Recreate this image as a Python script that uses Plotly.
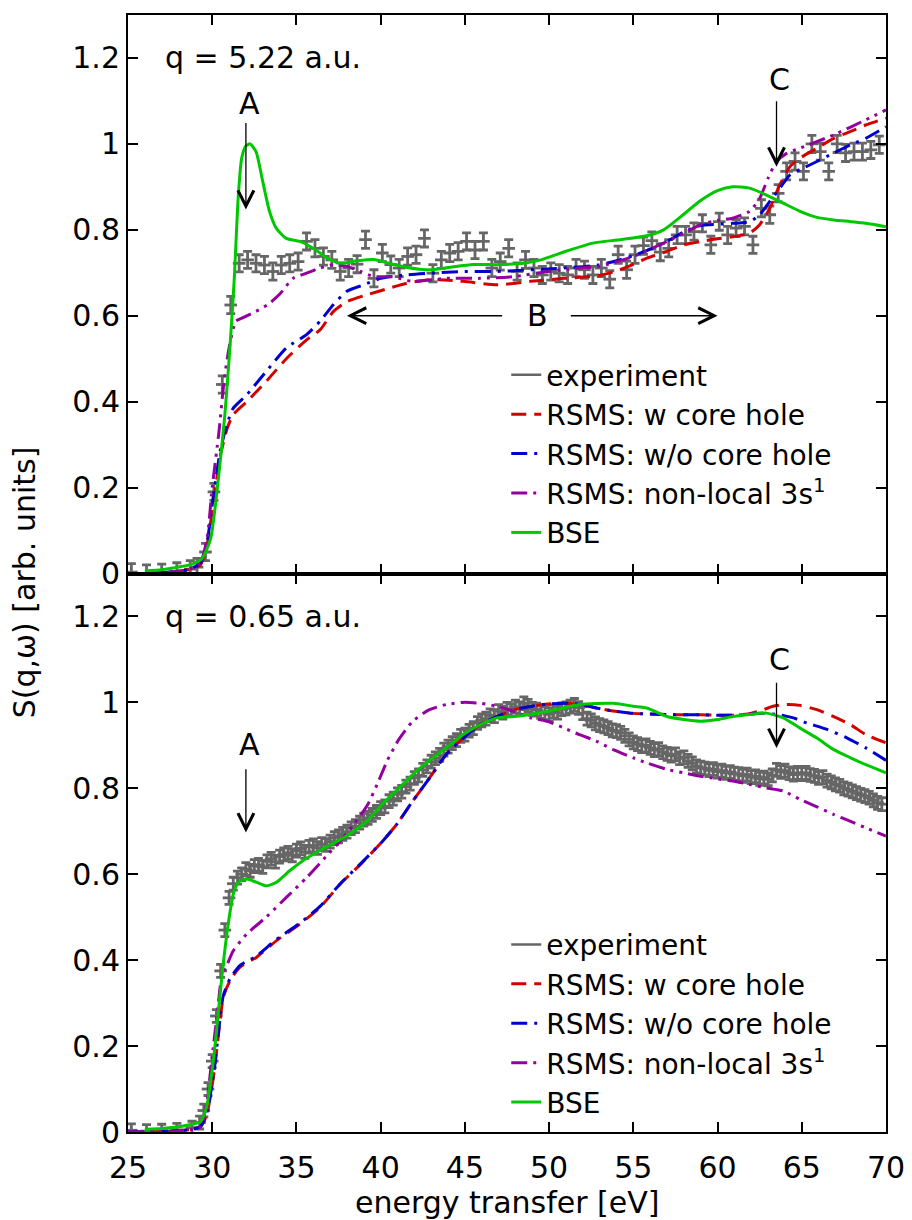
import plotly.graph_objects as go

# ---------------- data: top panel (q = 5.22 a.u.) ----------------
exp_top_E = [25.2, 26.1, 27.0, 27.9, 28.7,
             29.1, 29.6, 30.1, 30.6, 31.1, 31.6, 32.1, 32.6, 33.1, 33.6,
             34.1, 34.6, 35.1, 35.6, 36.1, 36.6, 37.1, 37.6, 38.1, 38.6,
             39.1, 39.6, 40.1, 40.6, 41.1, 41.6, 42.1, 42.6, 43.1, 43.6,
             44.1, 44.6, 45.1, 45.6, 46.1, 46.6, 47.1, 47.6, 48.1, 48.6,
             49.1, 49.6, 50.1, 50.6, 51.1, 51.6, 52.1, 52.6, 53.1, 53.6,
             54.1, 54.6, 55.1, 55.6, 56.1, 56.6, 57.1, 57.6, 58.1, 58.6,
             59.1, 59.6, 60.1, 60.6, 61.1, 61.6, 62.1, 62.6, 63.1, 63.6,
             64.1, 64.6, 65.1, 65.6, 66.1, 66.6, 67.1, 67.6, 68.1, 68.6,
             69.1, 69.6]
exp_top_S = [0.003, 0.0, 0.002, 0.005, 0.01,
             0.015, 0.05, 0.19, 0.44, 0.625, 0.722, 0.730, 0.722, 0.718, 0.703,
             0.718, 0.722, 0.726, 0.773, 0.757, 0.738, 0.730, 0.703, 0.711, 0.720,
             0.777, 0.687, 0.746, 0.719, 0.711, 0.738, 0.742, 0.780, 0.699, 0.730,
             0.746, 0.750, 0.773, 0.753, 0.773, 0.711, 0.726, 0.757, 0.703, 0.730,
             0.711, 0.695, 0.703, 0.699, 0.695, 0.711, 0.707, 0.695, 0.711, 0.685,
             0.742, 0.707, 0.742, 0.763, 0.775, 0.748, 0.757, 0.788, 0.788, 0.796,
             0.815, 0.765, 0.819, 0.788, 0.804, 0.808, 0.765, 0.850, 0.835, 0.885,
             0.936, 0.959, 0.936, 1.000, 0.982, 0.936, 1.000, 0.979, 0.982, 0.982,
             0.986, 0.998]

red_top_E = [25, 26, 27, 28, 28.7, 29.3, 29.7, 30.1, 30.5, 30.9, 31.25, 32.05, 33.2, 34.4,
             35.6, 36.4, 37.2, 38.0, 39.2, 40.5, 41.5, 42.9, 44.9, 46.9, 48.9, 50.9, 52.9,
             53.9, 54.9, 55.8, 57.0, 58.0, 59.0, 60.0, 60.9, 61.9, 62.5, 63.1, 63.7, 64.3,
             64.9, 65.9, 66.9, 67.9, 68.8, 70.0]
red_top_S = [0.0, 0.0, 0.002, 0.005, 0.01, 0.02, 0.068, 0.176, 0.277, 0.339, 0.37, 0.40, 0.447,
             0.50, 0.544, 0.567, 0.61, 0.633, 0.649, 0.664, 0.675, 0.684, 0.680, 0.672, 0.68,
             0.687, 0.693, 0.703, 0.718, 0.734, 0.75, 0.765, 0.773, 0.779, 0.784, 0.792,
             0.812, 0.850, 0.905, 0.947, 0.967, 0.990, 1.013, 1.029, 1.044, 1.06]

blue_top_E = [25, 26, 27, 28, 28.7, 29.3, 29.7, 30.1, 30.5, 30.9, 31.25, 32.05, 33.2, 34.4,
              35.6, 36.4, 37.2, 38.0, 39.0, 40.0, 41.5, 42.9, 44.9, 46.9, 48.9, 50.9, 52.9,
              54.0, 55.0, 56.0, 57.0, 58.0, 59.0, 60.0, 60.9, 61.9, 62.5, 63.1, 63.7, 64.3,
              64.9, 65.9, 66.9, 67.9, 68.8, 70.0]
blue_top_S = [0.0, 0.0, 0.002, 0.005, 0.01, 0.025, 0.075, 0.19, 0.29, 0.35, 0.385, 0.416, 0.47,
              0.525, 0.556, 0.587, 0.626, 0.657, 0.672, 0.687, 0.695, 0.699, 0.703, 0.703,
              0.707, 0.711, 0.718, 0.728, 0.740, 0.755, 0.773, 0.795, 0.810, 0.813, 0.815,
              0.819, 0.835, 0.866, 0.897, 0.928, 0.94, 0.959, 0.979, 0.998, 1.013, 1.04]

pur_top_E = [25, 26, 27, 28, 28.7, 29.3, 29.7, 30.0, 30.4, 30.7, 31.0, 31.4, 31.8, 32.6, 33.3,
             34.0, 34.8, 35.6, 36.4, 37.2, 38.0, 38.8, 39.6, 40.7, 41.9, 43.9, 45.9, 47.9,
             49.9, 51.8, 53.0, 55.0, 57.0, 58.0, 59.0, 60.0, 60.9, 61.9, 62.5, 63.0, 63.5,
             64.1, 64.9, 66.9, 68.8, 70.0]
pur_top_S = [0.0, 0.0, 0.002, 0.005, 0.01, 0.025, 0.083, 0.2, 0.33, 0.447, 0.525, 0.587, 0.595,
             0.61, 0.626, 0.650, 0.687, 0.699, 0.711, 0.719, 0.715, 0.703, 0.691, 0.691, 0.68,
             0.687, 0.687, 0.691, 0.703, 0.711, 0.715, 0.738, 0.773, 0.792, 0.812, 0.822,
             0.827, 0.843, 0.873, 0.92, 0.959, 0.978, 0.99, 1.021, 1.056, 1.079]

bse_top_E = [26.0, 27, 28, 28.8, 29.4, 29.9, 30.35, 30.75, 31.05, 31.3, 31.55, 31.75, 32.0,
             32.25, 32.6, 33.0, 33.4, 33.8, 34.4, 35.2, 36.0, 36.8, 37.6, 38.6, 39.6, 40.5,
             41.5, 42.9, 44.0, 45.5, 47.0, 48.5, 49.5, 51.0, 52.6, 54.2, 55.8, 56.8, 57.8,
             59.0, 60.0, 60.9, 61.9, 62.9, 63.9, 64.9, 65.9, 66.9, 67.9, 68.8, 70.0]
bse_top_S = [0.006, 0.009, 0.015, 0.022, 0.035, 0.08, 0.215, 0.37, 0.525, 0.68, 0.88, 0.967,
             0.995, 1.0, 0.982, 0.912, 0.843, 0.804, 0.78, 0.773, 0.757, 0.735, 0.722, 0.728,
             0.731, 0.722, 0.713, 0.707, 0.712, 0.719, 0.719, 0.722, 0.730, 0.75, 0.769,
             0.777, 0.786, 0.80, 0.83, 0.868, 0.891, 0.90, 0.897, 0.881, 0.862, 0.843, 0.829,
             0.823, 0.819, 0.815, 0.807]

# ---------------- data: bottom panel (q = 0.65 a.u.) ----------------
exp_bot_E = [25.2, 26.1, 27.0, 27.9, 28.8,
             29.25, 29.5, 29.75, 30.0, 30.25, 30.5, 30.75, 31.0,
             31.25, 31.5, 31.75, 32.0, 32.25, 32.5, 32.75, 33.0,
             33.25, 33.5, 33.75, 34.0, 34.25, 34.5, 34.75, 35.0,
             35.25, 35.5, 35.75, 36.0, 36.25, 36.5, 36.75, 37.0,
             37.25, 37.5, 37.75, 38.0, 38.25, 38.5, 38.75, 39.0,
             39.25, 39.5, 39.75, 40.0, 40.25, 40.5, 40.75, 41.0,
             41.25, 41.5, 41.75, 42.0, 42.25, 42.5, 42.75, 43.0,
             43.25, 43.5, 43.75, 44.0, 44.25, 44.5, 44.75, 45.0,
             45.25, 45.5, 45.75, 46.0, 46.25, 46.5, 46.75, 47.0,
             47.25, 47.5, 47.75, 48.0, 48.25, 48.5, 48.75, 49.0,
             49.25, 49.5, 49.75, 50.0, 50.25, 50.5, 50.75, 51.0,
             51.25, 51.5, 51.75, 52.0, 52.25, 52.5, 52.75, 53.0,
             53.25, 53.5, 53.75, 54.0, 54.25, 54.5, 54.75, 55.0,
             55.25, 55.5, 55.75, 56.0, 56.25, 56.5, 56.75, 57.0,
             57.25, 57.5, 57.75, 58.0, 58.25, 58.5, 58.75, 59.0,
             59.25, 59.5, 59.75, 60.0, 60.25, 60.5, 60.75, 61.0,
             61.25, 61.5, 61.75, 62.0, 62.25, 62.5, 62.75, 63.0,
             63.25, 63.5, 63.75, 64.0, 64.25, 64.5, 64.75, 65.0,
             65.25, 65.5, 65.75, 66.0, 66.25, 66.5, 66.75, 67.0,
             67.25, 67.5, 67.75, 68.0, 68.25, 68.5, 68.75, 69.0,
             69.25, 69.5, 69.75]
exp_bot_S = [0.004, 0.002, 0.003, 0.005, 0.01,
             0.022, 0.05, 0.10, 0.165, 0.27, 0.375, 0.47, 0.545,
             0.578, 0.592, 0.600, 0.612, 0.608, 0.619, 0.622, 0.617,
             0.630, 0.636, 0.629, 0.641, 0.646, 0.650, 0.644, 0.655,
             0.660, 0.652, 0.664, 0.667, 0.661, 0.670, 0.668, 0.676,
             0.684, 0.688, 0.694, 0.699, 0.707, 0.712, 0.720, 0.727,
             0.731, 0.738, 0.745, 0.754, 0.758, 0.770, 0.776, 0.786,
             0.792, 0.804, 0.811, 0.824, 0.830, 0.843, 0.851, 0.862,
             0.870, 0.878, 0.890, 0.897, 0.905, 0.912, 0.922, 0.925,
             0.934, 0.940, 0.952, 0.958, 0.962, 0.970, 0.968, 0.980,
             0.976, 0.985, 0.982, 0.990, 0.986, 0.998, 0.992, 0.985,
             0.983, 0.978, 0.975, 0.972, 0.979, 0.976, 0.984, 0.986,
             0.990, 0.994, 0.987, 0.975, 0.962, 0.958, 0.951, 0.947,
             0.944, 0.940, 0.935, 0.933, 0.929, 0.922, 0.914, 0.907,
             0.903, 0.898, 0.900, 0.894, 0.889, 0.891, 0.884, 0.880,
             0.876, 0.879, 0.870, 0.872, 0.864, 0.858, 0.851, 0.848,
             0.846, 0.842, 0.845, 0.839, 0.841, 0.836, 0.838, 0.834,
             0.833, 0.829, 0.832, 0.826, 0.828, 0.822, 0.825, 0.821,
             0.830, 0.843, 0.838, 0.841, 0.835, 0.832, 0.836, 0.833,
             0.836, 0.831, 0.829, 0.824, 0.826, 0.818, 0.814, 0.809,
             0.806, 0.800, 0.797, 0.793, 0.789, 0.785, 0.782, 0.778,
             0.772, 0.766, 0.763]

red_bot_E = [25, 26, 27, 28, 28.8, 29.3, 29.67, 30.1, 30.4, 30.66, 31.06, 31.65, 32.64, 33.8,
             35.2, 36.4, 37.6, 38.8, 40.0, 40.95, 41.9, 42.9, 43.9, 44.9, 45.9, 46.9, 47.9,
             49.0, 49.9, 50.9, 51.8, 52.8, 53.8, 54.8, 55.8, 57.0, 58.0, 59.0, 60.0, 60.9,
             61.8, 62.5, 63.3, 64.1, 64.9, 65.9, 66.9, 67.9, 68.8, 70.0]
red_bot_S = [0.0, 0.0, 0.001, 0.003, 0.006, 0.012, 0.04, 0.136, 0.237, 0.314, 0.353, 0.384,
             0.407, 0.445, 0.484, 0.523, 0.577, 0.623, 0.672, 0.716, 0.770, 0.824, 0.879,
             0.917, 0.948, 0.967, 0.983, 0.991, 0.996, 0.998, 0.996, 0.987, 0.98, 0.975,
             0.973, 0.972, 0.971, 0.971, 0.970, 0.970, 0.973, 0.98, 0.991, 0.995, 0.993,
             0.983, 0.967, 0.948, 0.925, 0.906]

blue_bot_E = [25, 26, 27, 28, 28.8, 29.3, 29.67, 30.1, 30.4, 30.66, 31.06, 31.65, 32.64, 33.8,
              35.2, 36.4, 37.6, 38.8, 40.0, 40.95, 41.9, 42.9, 43.9, 44.9, 45.9, 46.9, 47.9,
              49.0, 49.9, 50.9, 51.8, 52.8, 53.8, 54.8, 55.8, 57.0, 58.0, 59.0, 60.0, 60.9,
              61.8, 62.5, 63.7, 64.5, 65.3, 66.5, 67.7, 68.8, 70.0]
blue_bot_S = [0.0, 0.0, 0.001, 0.003, 0.006, 0.013, 0.043, 0.14, 0.242, 0.318, 0.357, 0.388,
              0.410, 0.448, 0.486, 0.525, 0.578, 0.624, 0.672, 0.716, 0.770, 0.824, 0.879,
              0.917, 0.948, 0.967, 0.983, 0.991, 0.996, 0.998, 0.996, 0.987, 0.98, 0.975,
              0.973, 0.972, 0.971, 0.971, 0.970, 0.970, 0.972, 0.975, 0.971, 0.964, 0.952,
              0.937, 0.917, 0.894, 0.865]

pur_bot_E = [25, 26, 27, 28, 28.8, 29.3, 29.67, 29.97, 30.3, 30.56, 30.9, 31.25, 32.05, 33.2,
             34.4, 35.6, 36.8, 37.6, 38.4, 39.2, 39.8, 40.4, 41.1, 41.9, 42.9, 43.9, 44.9,
             45.9, 46.9, 47.9, 48.9, 49.9, 50.9, 51.8, 52.8, 53.8, 55.0, 55.8, 57.0, 58.0,
             59.0, 60.0, 60.9, 61.9, 62.9, 63.9, 64.9, 65.9, 66.9, 67.9, 68.8, 70.0]
pur_bot_S = [0.0, 0.0, 0.001, 0.003, 0.006, 0.012, 0.067, 0.167, 0.276, 0.36, 0.391, 0.422,
             0.461, 0.5, 0.546, 0.592, 0.643, 0.677, 0.716, 0.76, 0.81, 0.865, 0.915, 0.956,
             0.983, 0.995, 1.0, 0.998, 0.991, 0.979, 0.964, 0.956, 0.94, 0.925, 0.91, 0.89,
             0.871, 0.859, 0.844, 0.836, 0.828, 0.822, 0.817, 0.809, 0.801, 0.794, 0.774,
             0.757, 0.739, 0.723, 0.708, 0.689]

bse_bot_E = [26.0, 27, 28, 28.8, 29.3, 29.67, 29.97, 30.2, 30.45, 30.7, 30.95, 31.25, 31.55,
             32.05, 32.64, 33.2, 33.8, 34.6, 35.6, 36.8, 37.2, 38.2, 39.2, 40.0, 41.1, 41.9,
             42.9, 43.9, 44.9, 45.9, 46.9, 47.9, 49.9, 51.8, 53.8, 55.0, 55.8, 57.0, 58.0,
             59.0, 60.0, 60.9, 61.9, 62.9, 63.9, 64.9, 65.9, 66.9, 67.9, 68.8, 70.0]
bse_bot_S = [0.006, 0.008, 0.012, 0.018, 0.024, 0.059, 0.136, 0.213, 0.314, 0.407, 0.484,
             0.554, 0.581, 0.589, 0.581, 0.573, 0.581, 0.608, 0.637, 0.664, 0.672, 0.695,
             0.724, 0.759, 0.801, 0.832, 0.865, 0.894, 0.925, 0.948, 0.964, 0.967, 0.979,
             0.995, 0.998, 0.991, 0.987, 0.967, 0.96, 0.956, 0.96, 0.967, 0.972, 0.975,
             0.964, 0.940, 0.917, 0.890, 0.871, 0.855, 0.836]

x_ticks = [25, 30, 35, 40, 45, 50, 55, 60, 65, 70]
y_ticks = [0, 0.2, 0.4, 0.6, 0.8, 1.0, 1.2]
y_tick_text = ["0", "0.2", "0.4", "0.6", "0.8", "1", "1.2"]

for a, b in [(exp_top_E, exp_top_S), (red_top_E, red_top_S), (blue_top_E, blue_top_S),
             (pur_top_E, pur_top_S), (bse_top_E, bse_top_S), (exp_bot_E, exp_bot_S),
             (red_bot_E, red_bot_S), (blue_bot_E, blue_bot_S), (pur_bot_E, pur_bot_S),
             (bse_bot_E, bse_bot_S)]:
    assert len(a) == len(b), (len(a), len(b))

# ---------------- styles ----------------
FONT = "DejaVu Sans"
GRAY = "#666666"
RED = "#d40000"
BLUE = "#0000d0"
PURPLE = "#9400a0"
GREEN = "#00c800"
LW = 3

series_style = [
    ("RSMS: w core hole", RED, "15px,8px"),
    ("RSMS: w/o core hole", BLUE, "16px,7px,3px,7px"),
    ("RSMS: non-local 3s<sup>1</sup>", PURPLE, "16px,6px,3px,6px,3px,6px"),
    ("BSE", GREEN, "solid"),
]

fig = go.Figure()


def add_panel(xa, ya, leg, expE, expS, err, curves):
    # legend-only entry for the experiment
    fig.add_trace(go.Scatter(x=[None], y=[None], mode="lines", name="experiment",
                             line=dict(color=GRAY, width=2.5), xaxis=xa, yaxis=ya,
                             legend=leg))
    fig.add_trace(go.Scatter(
        x=expE, y=expS, mode="markers", showlegend=False, xaxis=xa, yaxis=ya,
        marker=dict(symbol="line-ew", size=9, color=GRAY, line=dict(color=GRAY, width=2.8)),
        error_y=dict(type="constant", value=err, color=GRAY, thickness=2.8, width=4.5),
        cliponaxis=True))
    for (name, color, dash), (cx, cy) in zip(series_style, curves):
        fig.add_trace(go.Scatter(x=cx, y=cy, mode="lines", name=name, xaxis=xa, yaxis=ya,
                                 legend=leg,
                                 line=dict(color=color, width=LW, dash=dash,
                                           shape="spline", smoothing=0.6)))


add_panel("x", "y", "legend", exp_top_E, exp_top_S, 0.02,
          [(red_top_E, red_top_S), (blue_top_E, blue_top_S),
           (pur_top_E, pur_top_S), (bse_top_E, bse_top_S)])
add_panel("x2", "y2", "legend2", exp_bot_E, exp_bot_S, 0.015,
          [(red_bot_E, red_bot_S), (blue_bot_E, blue_bot_S),
           (pur_bot_E, pur_bot_S), (bse_bot_E, bse_bot_S)])

axis_common = dict(showgrid=False, zeroline=False, showline=True, linecolor="black",
                   linewidth=2, mirror="ticks", ticks="inside", ticklen=10,
                   tickwidth=1.5, tickcolor="black",
                   tickfont=dict(family=FONT, size=30, color="black"))

xcommon = dict(axis_common, range=[25, 70], tickmode="array", tickvals=x_ticks)
ycommon = dict(axis_common, range=[0, 1.3], tickmode="array", tickvals=y_ticks,
               ticktext=y_tick_text)

legend_common = dict(font=dict(family=FONT, size=28, color="black"),
                     bgcolor="rgba(0,0,0,0)", borderwidth=0, xanchor="left",
                     yanchor="top", traceorder="normal", itemwidth=30)

# the page adds an 8 px body margin, so the figure is 8 px smaller each way
fig.update_layout(
    width=904, height=1212,
    margin=dict(l=120, r=26, t=5, b=88),
    paper_bgcolor="white", plot_bgcolor="white",
    font=dict(family=FONT, size=30, color="black"),
    xaxis=dict(xcommon, domain=[0, 1], anchor="y", showticklabels=False),
    yaxis=dict(ycommon, domain=[0.5, 1], anchor="x"),
    xaxis2=dict(xcommon, domain=[0, 1], anchor="y2", ticklabelstandoff=8),
    yaxis2=dict(ycommon, domain=[0, 0.5], anchor="x2"),
    legend=dict(legend_common, x=0.499, y=0.70),
    legend2=dict(legend_common, x=0.499, y=0.19),
    showlegend=True,
)

# ---------------- annotations ----------------
def label(text, x, y, xa, ya, xanchor="center"):
    fig.add_annotation(text=text, x=x, y=y, xref=xa, yref=ya, showarrow=False,
                       xanchor=xanchor, yanchor="middle",
                       font=dict(family=FONT, size=30, color="black"))


def arrow(x, y, ax, ay, xa, ya):
    fig.add_annotation(text="", x=x, y=y, ax=ax, ay=ay, xref=xa, yref=ya,
                       axref=xa, ayref=ya, showarrow=True, arrowhead=5,
                       arrowsize=2.4, arrowwidth=1.3, arrowcolor="black",
                       standoff=0, startstandoff=0)


label("q = 5.22 a.u.", 27.1, 1.2, "x", "y", xanchor="left")
label("A", 32.2, 1.094, "x", "y")
arrow(32.0, 0.847, 32.0, 1.052, "x", "y")
label("C", 63.7, 1.149, "x", "y")
arrow(63.5, 0.947, 63.5, 1.103, "x", "y")
label("B", 49.3, 0.6, "x", "y")
arrow(38.0, 0.6, 47.3, 0.6, "x", "y")
arrow(60.0, 0.6, 51.2, 0.6, "x", "y")

label("q = 0.65 a.u.", 27.1, 1.2, "x2", "y2", xanchor="left")
label("A", 32.2, 0.902, "x2", "y2")
arrow(32.0, 0.697, 32.0, 0.848, "x2", "y2")
label("C", 63.7, 1.099, "x2", "y2")
arrow(63.5, 0.894, 63.5, 1.049, "x2", "y2")

# axis titles
fig.add_annotation(text="S(q,ω) [arb. units]", x=-0.136, y=0.492, xref="paper",
                   yref="paper", showarrow=False, textangle=-90,
                   xanchor="center", yanchor="middle",
                   font=dict(family=FONT, size=30, color="black"))
fig.add_annotation(text="energy transfer [eV]", x=0.5, y=-0.063, xref="paper",
                   yref="paper", showarrow=False, xanchor="center", yanchor="middle",
                   font=dict(family=FONT, size=30, color="black"))

fig.write_html("out.html")
